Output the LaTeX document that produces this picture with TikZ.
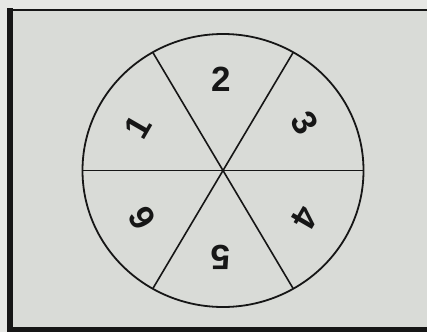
\documentclass[tikz,border=0pt]{standalone}
\usepackage{fontspec}
\setmainfont{Liberation Sans}
\definecolor{paper}{RGB}{230,231,228}
\definecolor{card}{RGB}{217,219,215}
\definecolor{ink}{RGB}{22,22,22}
\begin{document}
\begin{tikzpicture}[x=1pt,y=-1pt,
  rim/.style={draw=ink,line width=1.8pt},
  spoke/.style={draw=ink,line width=1.6pt},
  num/.style={font=\fontsize{35}{35}\selectfont\bfseries,text=ink,inner sep=0pt}]
\useasboundingbox (0,0) rectangle (427,332);
\fill[paper] (0,0) rectangle (427,332);
\fill[card] (9,10) rectangle (427,332);
% frame
\draw[ink,line width=2pt] (9,10) -- (427,10);
\draw[ink,line width=6pt] (9.5,8) -- (9.5,332);
\draw[ink,line width=5pt] (9.5,329.5) -- (427,329.5);
% dial
\coordinate (c) at (223,170.5);
\draw[rim] (c) ellipse [x radius=140.5, y radius=136.5];
\path (c) ++(0:140.5 and 136.5) coordinate (a0);
\path (c) ++(60:140.5 and 136.5) coordinate (a60);
\path (c) ++(120:140.5 and 136.5) coordinate (a120);
\path (c) ++(180:140.5 and 136.5) coordinate (a180);
\path (c) ++(240:140.5 and 136.5) coordinate (a240);
\path (c) ++(300:140.5 and 136.5) coordinate (a300);
\draw[spoke] (a180) -- (a0);
\draw[spoke] (a60) -- (a240);
\draw[spoke] (a120) -- (a300);
% numbers
\node[num,rotate=0]    (n2) at (221,79)  {2};
\node[num,rotate=-60]  (n3) at (305,123) {3};
\node[num,rotate=-120] (n4) at (305,218) {4};
\node[num,rotate=180]  (n5) at (221,257) {5};
\node[num,rotate=120]  (n6) at (142,218) {6};
\node[num,rotate=60]   (n1) at (138,127) {1};
\end{tikzpicture}
\end{document}
